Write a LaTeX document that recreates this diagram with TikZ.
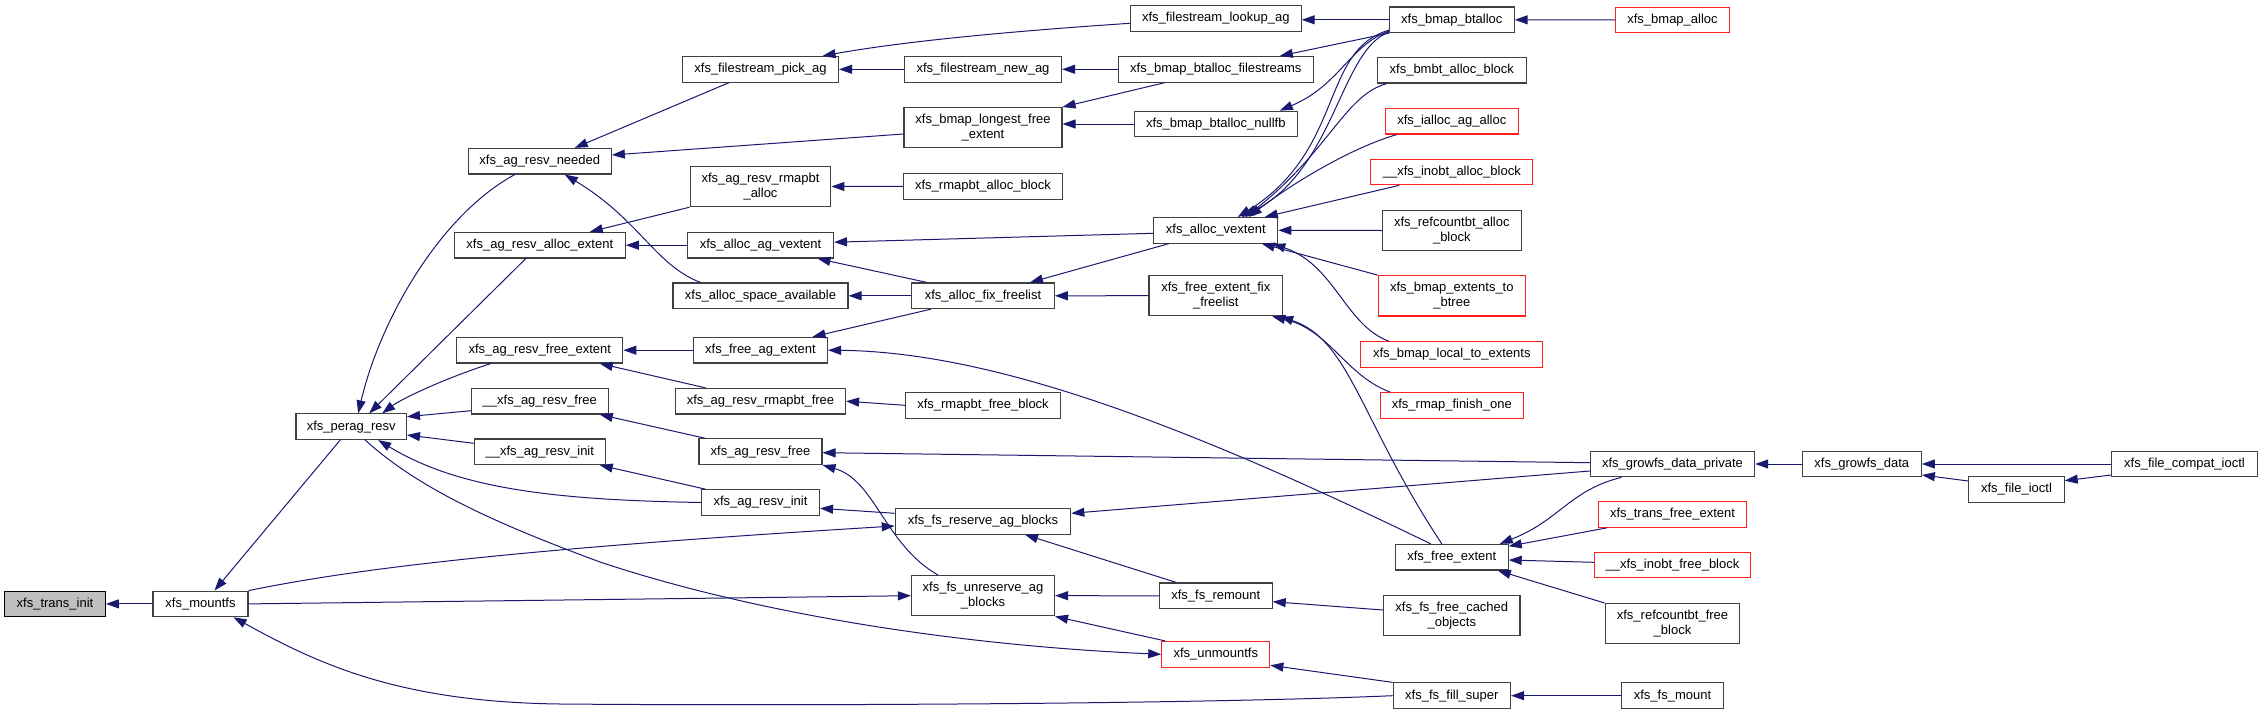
\documentclass[tikz,border=0pt]{standalone}
\usepackage{fontspec}
\setmainfont{Liberation Sans}
\usetikzlibrary{arrows.meta}
\definecolor{edgec}{HTML}{191970}
\definecolor{boxc}{HTML}{404040}
\definecolor{redc}{HTML}{FF2020}
\definecolor{focusfill}{HTML}{BFBFBF}
\begin{document}
\begin{tikzpicture}[x=1pt,y=-1pt,
  box/.style={draw=boxc, line width=1.1pt, fill=white, inner sep=0pt, minimum height=25.6pt, align=center, font=\fontsize{13}{15}\selectfont},
  tall/.style={minimum height=40.3pt},
  trunc/.style={draw=redc},
  focus/.style={fill=focusfill, draw=black},
  edg/.style={draw=edgec, line width=1pt, -{Triangle[length=13pt,width=9pt]}}]
\useasboundingbox (0,0) rectangle (2263,715);
% rank 0-2
\node[box,focus,minimum width=100.7pt] (transinit) at (55,603.9) {xfs\_trans\_init};
\node[box,minimum width=95pt] (mountfs) at (200.5,603.9) {xfs\_mountfs};
\node[box,minimum width=110.5pt] (peragresv) at (351.2,426.7) {xfs\_perag\_resv};
% rank 3
\node[box,minimum width=143pt] (needed) at (539.8,161.2) {xfs\_ag\_resv\_needed};
\node[box,minimum width=171pt] (allocext) at (539.8,245.2) {xfs\_ag\_resv\_alloc\_extent};
\node[box,minimum width=166pt] (freeext) at (539.8,350.2) {xfs\_ag\_resv\_free\_extent};
\node[box,minimum width=136.5pt] (uufree) at (539.8,401.2) {\_\_xfs\_ag\_resv\_free};
\node[box,minimum width=131pt] (uuinit) at (539.8,451.8) {\_\_xfs\_ag\_resv\_init};
% rank 4
\node[box,minimum width=156pt] (pickag) at (760.5,69.3) {xfs\_filestream\_pick\_ag};
\node[box,tall,minimum width=140.7pt] (rmapalloc) at (760.5,186.5) {xfs\_ag\_resv\_rmapbt\\\_alloc};
\node[box,minimum width=146pt] (agvextent) at (760.5,245.2) {xfs\_alloc\_ag\_vextent};
\node[box,minimum width=175pt] (spaceavail) at (760.5,295.8) {xfs\_alloc\_space\_available};
\node[box,minimum width=134pt] (freeagext) at (760.5,350.2) {xfs\_free\_ag\_extent};
\node[box,minimum width=170pt] (rmapfree) at (760.5,401.2) {xfs\_ag\_resv\_rmapbt\_free};
\node[box,minimum width=123pt] (resvfree) at (760.5,451.7) {xfs\_ag\_resv\_free};
\node[box,minimum width=118pt] (resvinit) at (760.5,502.5) {xfs\_ag\_resv\_init};
% rank 5
\node[box,minimum width=157pt] (newag) at (983,69.3) {xfs\_filestream\_new\_ag};
\node[box,tall,minimum width=158pt] (longest) at (983,127.7) {xfs\_bmap\_longest\_free\\\_extent};
\node[box,minimum width=159pt] (rmapallocblk) at (983,186.3) {xfs\_rmapbt\_alloc\_block};
\node[box,minimum width=142.5pt] (fixfree) at (983,295.8) {xfs\_alloc\_fix\_freelist};
\node[box,minimum width=155pt] (rmapfreeblk) at (983,405.3) {xfs\_rmapbt\_free\_block};
\node[box,minimum width=175.5pt] (fsreserve) at (983,521.3) {xfs\_fs\_reserve\_ag\_blocks};
\node[box,tall,minimum width=143pt] (unreserve) at (983,595.7) {xfs\_fs\_unreserve\_ag\\\_blocks};
% rank 6
\node[box,minimum width=170.7pt] (lookupag) at (1215.8,18.5) {xfs\_filestream\_lookup\_ag};
\node[box,minimum width=195pt] (filestreams) at (1215.8,69.3) {xfs\_bmap\_btalloc\_filestreams};
\node[box,minimum width=163pt] (nullfb) at (1215.8,124) {xfs\_bmap\_btalloc\_nullfb};
\node[box,minimum width=124pt] (vextent) at (1215.8,230.3) {xfs\_alloc\_vextent};
\node[box,tall,minimum width=133.7pt] (fefix) at (1215.8,295.7) {xfs\_free\_extent\_fix\\\_freelist};
\node[box,minimum width=112.7pt] (remount) at (1215.8,595.8) {xfs\_fs\_remount};
\node[box,trunc,minimum width=108pt] (unmountfs) at (1215.8,654.3) {xfs\_unmountfs};
% rank 7
\node[box,minimum width=124.6pt] (btalloc) at (1451.8,19.8) {xfs\_bmap\_btalloc};
\node[box,minimum width=148.6pt] (bmbtalloc) at (1451.8,70.2) {xfs\_bmbt\_alloc\_block};
\node[box,trunc,minimum width=132.7pt] (iallocag) at (1451.8,121.2) {xfs\_ialloc\_ag\_alloc};
\node[box,trunc,minimum width=162pt] (inobtalloc) at (1451.8,172) {\_\_xfs\_inobt\_alloc\_block};
\node[box,tall,minimum width=138.8pt] (refcalloc) at (1451.8,230.5) {xfs\_refcountbt\_alloc\\\_block};
\node[box,tall,trunc,minimum width=147.3pt] (ext2btree) at (1451.8,295.8) {xfs\_bmap\_extents\_to\\\_btree};
\node[box,trunc,minimum width=181.8pt] (local2ext) at (1451.8,354.5) {xfs\_bmap\_local\_to\_extents};
\node[box,trunc,minimum width=143.2pt] (rmapfinish) at (1451.8,405.3) {xfs\_rmap\_finish\_one};
\node[box,minimum width=112.7pt] (freeextent) at (1451.8,557.2) {xfs\_free\_extent};
\node[box,tall,minimum width=136.4pt] (cached) at (1451.8,615.7) {xfs\_fs\_free\_cached\\\_objects};
\node[box,minimum width=117.4pt] (fillsuper) at (1451.8,695.7) {xfs\_fs\_fill\_super};
% rank 8+
\node[box,trunc,minimum width=114pt] (bmapalloc) at (1672.5,20) {xfs\_bmap\_alloc};
\node[box,minimum width=164.3pt] (growpriv) at (1672.5,464) {xfs\_growfs\_data\_private};
\node[box,trunc,minimum width=148.2pt] (transfree) at (1672.5,514.5) {xfs\_trans\_free\_extent};
\node[box,trunc,minimum width=156.3pt] (inobtfree) at (1672.5,565) {\_\_xfs\_inobt\_free\_block};
\node[box,tall,minimum width=134.7pt] (refcfree) at (1672.5,623.7) {xfs\_refcountbt\_free\\\_block};
\node[box,minimum width=101.7pt] (fsmount) at (1672.5,695.7) {xfs\_fs\_mount};
\node[box,minimum width=119pt] (growfs) at (1861.8,464) {xfs\_growfs\_data};
\node[box,minimum width=95.4pt] (fileioctl) at (2016.5,489.3) {xfs\_file\_ioctl};
\node[box,minimum width=145.5pt] (compat) at (2184.5,464) {xfs\_file\_compat\_ioctl};
% edges
\draw[edg] (mountfs.west) -- (transinit.east);
\draw[edg] ([xshift=-11pt]peragresv.south) -- ([xshift=14pt]mountfs.north);
\draw[edg] (mountfs.north east) .. controls (350,570) and (500,550) .. ([yshift=-4.7pt]fsreserve.west);
\draw[edg] (mountfs.east) -- (unreserve.west);
\draw[edg] (fillsuper.west) .. controls (1200,704) and (800,706) .. (560,704) .. controls (400,702) and (320,665) .. ([xshift=-15pt]mountfs.south east);
\draw[edg] ([yshift=-9.5pt]uufree.west) -- ([yshift=10pt]peragresv.east);
\draw[edg] ([yshift=8.5pt]uuinit.west) -- ([yshift=-8.3pt]peragresv.east);
\draw[edg] ([xshift=-25pt]needed.south) .. controls (440,215) and (380,320) .. ([xshift=7pt]peragresv.north);
\draw[edg] ([xshift=-14pt]allocext.south) -- ([xshift=18pt]peragresv.north);
\draw[edg] ([xshift=-49pt]freeext.south) .. controls (440,380) and (400,400) .. ([xshift=31pt]peragresv.north);
\draw[edg] (resvinit.west) .. controls (560,500) and (460,490) .. ([xshift=27pt]peragresv.south);
\draw[edg] ([xshift=14pt]peragresv.south) .. controls (420,490) and (500,525) .. (600,562) .. controls (750,612) and (950,645) .. (unmountfs.west);
\draw[edg] ([xshift=-31.5pt]pickag.south) -- ([xshift=35pt]needed.north);
\draw[edg] ([yshift=-6.3pt]longest.west) -- ([yshift=6.2pt]needed.east);
\draw[edg] (newag.west) -- (pickag.east);
\draw[edg] ([yshift=-4.8pt]lookupag.west) .. controls (1000,32) and (900,42) .. ([xshift=62pt]pickag.north);
\draw[edg] (filestreams.west) -- (newag.east);
\draw[edg] ([xshift=-51pt]filestreams.south) -- (longest.north east);
\draw[edg] (nullfb.west) -- (nullfb.west -| longest.east);
\draw[edg] (btalloc.west) -- (btalloc.west -| lookupag.east);
\draw[edg] (bmapalloc.west) -- (btalloc.east);
\draw[edg] (btalloc.south west) -- ([xshift=64pt]filestreams.north);
\draw[edg] ([yshift=2pt]btalloc.south west) .. controls (1350,45) and (1340,85) .. ([xshift=64pt]nullfb.north);
\draw[edg] ([yshift=3pt]btalloc.south west) .. controls (1320,50) and (1345,150) .. ([xshift=22pt]vextent.north);
\draw[edg] ([yshift=1pt]btalloc.south west) .. controls (1340,50) and (1335,170) .. ([xshift=26pt]vextent.north);
\draw[edg] ([xshift=10pt]bmbtalloc.south west) .. controls (1345,95) and (1330,150) .. ([xshift=30pt]vextent.north);
\draw[edg] ([xshift=12pt]iallocag.south west) .. controls (1350,148) and (1290,185) .. ([xshift=33pt]vextent.north);
\draw[edg] ([xshift=29pt]inobtalloc.south west) -- ([xshift=49pt]vextent.north);
\draw[edg] (refcalloc.west) -- (vextent.east);
\draw[edg] (ext2btree.north west) -- ([xshift=46pt]vextent.south);
\draw[edg] ([xshift=-63pt]local2ext.north) .. controls (1345,325) and (1335,265) .. ([xshift=-6pt]vextent.south east);
\draw[edg] ([yshift=-3pt]vextent.west) -- ([yshift=3pt]agvextent.east);
\draw[edg] ([xshift=-47pt]vextent.south) -- ([xshift=47pt]fixfree.north);
\draw[edg] ([xshift=-56pt]fixfree.north) -- ([xshift=57pt]agvextent.south);
\draw[edg] (fixfree.west) -- (spaceavail.east);
\draw[edg] (fefix.west) -- (fixfree.east);
\draw[edg] ([xshift=-52pt]fixfree.south) -- ([xshift=52pt]freeagext.north);
\draw[edg] (freeagext.west) -- (freeext.east);
\draw[edg] ([xshift=-21pt]freeextent.north) .. controls (1200,432) and (1000,352) .. (freeagext.east);
\draw[edg] ([xshift=-10pt]freeextent.north) .. controls (1360,420) and (1350,340) .. ([xshift=-3pt]fefix.south east);
\draw[edg] ([xshift=-62pt]rmapfinish.north) .. controls (1345,375) and (1330,330) .. ([xshift=-11pt]fefix.south east);
\draw[edg] ([xshift=-55pt]rmapfree.north) -- ([xshift=60pt]freeext.south);
\draw[edg] (rmapfreeblk.west) -- (rmapfree.east);
\draw[edg] ([xshift=-55pt]resvfree.north) -- ([xshift=60pt]uufree.south);
\draw[edg] ([xshift=-55pt]resvinit.north) -- ([xshift=60pt]uuinit.south);
\draw[edg] ([yshift=1.3pt]growpriv.west) -- ([yshift=-1pt]resvfree.east);
\draw[edg] ([xshift=-45pt]unreserve.north) .. controls (885,545) and (875,480) .. (resvfree.south east);
\draw[edg] ([yshift=8pt]fsreserve.west) -- ([yshift=-5.8pt]resvinit.east);
\draw[edg] ([yshift=-7pt]growpriv.west) -- ([yshift=8pt]fsreserve.east);
\draw[edg] ([xshift=-39.5pt]remount.north) -- ([xshift=42pt]fsreserve.south);
\draw[edg] (remount.west) -- (unreserve.east);
\draw[edg] ([xshift=4pt]unmountfs.north west) -- (unreserve.south east);
\draw[edg] (rmapallocblk.west) -- (rmapalloc.east);
\draw[edg] (rmapalloc.south west) -- ([xshift=50pt]allocext.north);
\draw[edg] (agvextent.west) -- (allocext.east);
\draw[edg] ([xshift=-60pt]spaceavail.north) .. controls (655,265) and (640,220) .. ([xshift=25pt]needed.south);
\draw[edg] ([xshift=-51pt]growpriv.south) .. controls (1570,490) and (1560,520) .. ([xshift=48pt]freeextent.north);
\draw[edg] ([xshift=9pt]transfree.south west) -- ([yshift=11pt]freeextent.east);
\draw[edg] ([yshift=2.7pt]inobtfree.west) -- ([yshift=-2.8pt]freeextent.east);
\draw[edg] (refcfree.north west) -- ([xshift=46pt]freeextent.south);
\draw[edg] ([yshift=5.7pt]cached.west) -- ([yshift=-5.9pt]remount.east);
\draw[edg] (fillsuper.north west) -- ([yshift=-11pt]unmountfs.east);
\draw[edg] (fsmount.west) -- (fillsuper.east);
\draw[edg] (growfs.west) -- (growpriv.east);
\draw[edg] (compat.west) -- (growfs.east);
\draw[edg] ([yshift=8.3pt]fileioctl.west) -- ([yshift=-11pt]growfs.east);
\draw[edg] ([yshift=-11pt]compat.west) -- ([yshift=8.6pt]fileioctl.east);
\end{tikzpicture}
\end{document}
